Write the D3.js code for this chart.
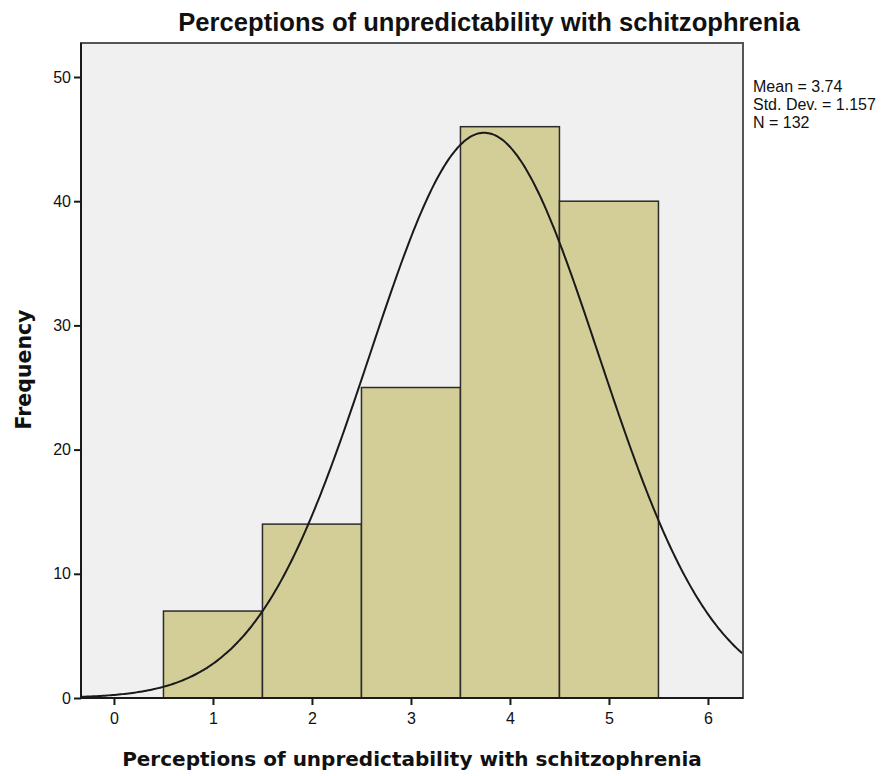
<!DOCTYPE html>
<html>
<head>
<meta charset="utf-8">
<script src="https://cdn.jsdelivr.net/npm/d3@7"></script>
<style>
  body { margin: 0; background: #fff; }
  svg text { font-family: "Liberation Sans", Arial, sans-serif; fill: #111; }
</style>
</head>
<body>
<div id="chart"></div>
<script>
// histogram values (bin centres + counts) and stats from the legend
const binCenters = [1, 2, 3, 4, 5];
const counts = [7, 14, 25, 46, 40];
const xTicks = [0, 1, 2, 3, 4, 5, 6];
const yTicks = [0, 10, 20, 30, 40, 50];
const stats = { mean: 3.74, sd: 1.157, n: 132 };
const legendLines = ["Mean = 3.74", "Std. Dev. = 1.157", "N = 132"];

const W = 888, H = 776;
const plot = { left: 81, right: 743, top: 43, bottom: 698 };

const svg = d3.select("#chart").append("svg")
  .attr("width", W).attr("height", H);

const x = d3.scaleLinear().domain([-0.333, 6.354]).range([plot.left, plot.right]);
const y = d3.scaleLinear().domain([0, 50]).range([plot.bottom, 77]);

// plot background
svg.append("rect")
  .attr("x", plot.left).attr("y", plot.top)
  .attr("width", plot.right - plot.left).attr("height", plot.bottom - plot.top)
  .attr("fill", "#f0f0f0");

svg.append("clipPath").attr("id", "clip").append("rect")
  .attr("x", plot.left).attr("y", plot.top)
  .attr("width", plot.right - plot.left).attr("height", plot.bottom - plot.top);

// bars
svg.append("g").selectAll("rect")
  .data(binCenters.map((c, i) => ({ c, v: counts[i] })))
  .join("rect")
  .attr("x", d => x(d.c - 0.5))
  .attr("y", d => y(d.v))
  .attr("width", d => x(d.c + 0.5) - x(d.c - 0.5))
  .attr("height", d => y(0) - y(d.v))
  .attr("fill", "#d3ce97")
  .attr("stroke", "#2b2b2b")
  .attr("stroke-width", 1.5);

// normal curve from the legend stats (bin width 1)
const pdf = v => stats.n / (stats.sd * Math.sqrt(2 * Math.PI)) *
  Math.exp(-0.5 * Math.pow((v - stats.mean) / stats.sd, 2));
const curvePts = d3.range(-0.333, 6.36, 0.02).map(v => [v, pdf(v)]);
svg.append("path")
  .datum(curvePts)
  .attr("clip-path", "url(#clip)")
  .attr("fill", "none")
  .attr("stroke", "#1a1a1a")
  .attr("stroke-width", 2)
  .attr("d", d3.line().x(d => x(d[0])).y(d => y(d[1])).curve(d3.curveBasis));

// frame
svg.append("rect")
  .attr("x", plot.left).attr("y", plot.top)
  .attr("width", plot.right - plot.left).attr("height", plot.bottom - plot.top)
  .attr("fill", "none")
  .attr("stroke", "#555")
  .attr("stroke-width", 2);
svg.append("line")
  .attr("x1", plot.left).attr("x2", plot.left)
  .attr("y1", plot.top).attr("y2", plot.bottom)
  .attr("stroke", "#1a1a1a").attr("stroke-width", 2);
svg.append("line")
  .attr("x1", plot.left).attr("x2", plot.right)
  .attr("y1", plot.bottom).attr("y2", plot.bottom)
  .attr("stroke", "#1a1a1a").attr("stroke-width", 2);

// axes
const yAxis = svg.append("g")
  .attr("transform", `translate(${plot.left},0)`)
  .call(d3.axisLeft(y).tickValues(yTicks).tickFormat(d3.format("d")).tickSize(7).tickPadding(3));
const xAxis = svg.append("g")
  .attr("transform", `translate(0,${plot.bottom})`)
  .call(d3.axisBottom(x).tickValues(xTicks).tickFormat(d3.format("d")).tickSize(7).tickPadding(8));
[yAxis, xAxis].forEach(a => {
  a.select(".domain").remove();
  a.selectAll(".tick line").attr("stroke", "#1a1a1a").attr("stroke-width", 2);
  a.selectAll(".tick text").style("font-size", "16px").attr("fill", "#222");
});

// titles
svg.append("text")
  .attr("x", 489).attr("y", 31)
  .attr("text-anchor", "middle")
  .style("font-size", "25.6px").style("font-weight", "bold")
  .text("Perceptions of unpredictability with schitzophrenia");

svg.append("text")
  .attr("x", (plot.left + plot.right) / 2).attr("y", 766)
  .attr("text-anchor", "middle")
  .style("font-family", "'DejaVu Sans', sans-serif")
  .style("font-size", "20px").style("font-weight", "bold")
  .text("Perceptions of unpredictability with schitzophrenia");

svg.append("text")
  .attr("transform", `translate(31,${(plot.top + plot.bottom) / 2 - 1}) rotate(-90)`)
  .attr("text-anchor", "middle")
  .style("font-family", "'DejaVu Sans', sans-serif")
  .style("font-size", "20.5px").style("font-weight", "bold")
  .text("Frequency");

// stats legend
svg.append("g").selectAll("text")
  .data(legendLines)
  .join("text")
  .attr("x", 753)
  .attr("y", (d, i) => 92 + i * 18)
  .style("font-size", "16px")
  .text(d => d);
</script>
</body>
</html>
